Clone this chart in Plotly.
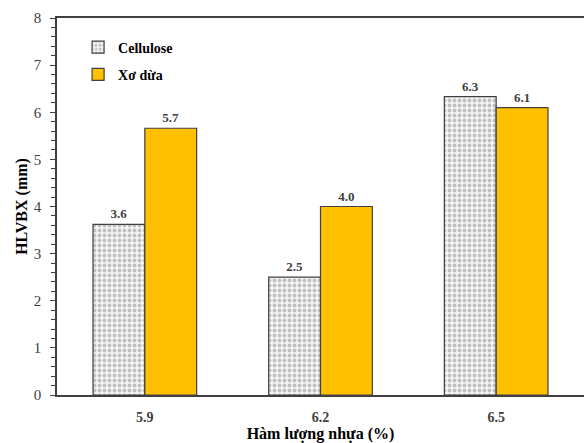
import plotly.graph_objects as go

# data
categories = ["5.9", "6.2", "6.5"]
cellulose = [3.62, 2.5, 6.33]
xo_dua = [5.66, 4.0, 6.1]

font_family = "Liberation Serif"

fig = go.Figure()
fig.add_trace(go.Bar(
    x=categories, y=cellulose, name="<b>Cellulose</b>", legendgroup="a",
    marker=dict(color="#f2f2f2",
                line=dict(color="#404040", width=1.2),
                pattern=dict(shape=".", fgcolor="#8c8c8c", bgcolor="#f4f4f4",
                             size=5, solidity=0.45)),
    texttemplate="<b>%{y:.1f}</b>", textposition="outside",
    textfont=dict(color="#404040", size=13, family=font_family),
    cliponaxis=False,
))
fig.add_trace(go.Bar(
    x=categories, y=xo_dua, name="<b>Xơ dừa</b>", legendgroup="b",
    marker=dict(color="#ffc000", line=dict(color="#404040", width=1.2)),
    texttemplate="<b>%{y:.1f}</b>", textposition="outside",
    textfont=dict(color="#404040", size=13, family=font_family),
    cliponaxis=False,
))

fig.update_layout(
    width=585, height=443,
    margin=dict(l=57, r=1, t=18, b=48),
    plot_bgcolor="white", paper_bgcolor="white",
    font=dict(family=font_family, color="#404040", size=14),
    barmode="group", bargap=0.41, bargroupgap=0,
    showlegend=True,
    legend=dict(x=0.04, y=0.964, xanchor="left", yanchor="top",
                bgcolor="rgba(0,0,0,0)", itemwidth=30,
                font=dict(size=14, color="black", family=font_family),
                tracegroupgap=6),
)
fig.update_xaxes(
    automargin=False,
    showline=True, linecolor="#404040", linewidth=1.5, mirror=True,
    ticks="", ticklabelstandoff=8,
    tickfont=dict(size=14, family=font_family, color="#404040"),
    tickprefix="<b>", ticksuffix="</b>",
    title=dict(text="<b>Hàm lượng nhựa (%)</b>", standoff=0,
               font=dict(size=16, color="black")),
)
fig.update_yaxes(
    automargin=False,
    range=[0, 8], dtick=1, showgrid=False, zeroline=False,
    showline=True, linecolor="#404040", linewidth=1.5,
    ticks="outside", ticklen=5, tickcolor="#404040", ticklabelstandoff=6,
    minor=dict(dtick=0.2, ticks="outside", ticklen=4, tickcolor="#404040"),
    tickfont=dict(size=15, color="#404040"),
    title=dict(text="<b>HLVBX (mm)</b>", standoff=2,
               font=dict(size=16, color="black")),
)

# drop the page's default body margin so the figure sits at the window corner
fig.write_html("out.html", config={"displayModeBar": False},
               post_script="document.body.style.margin='0';")
